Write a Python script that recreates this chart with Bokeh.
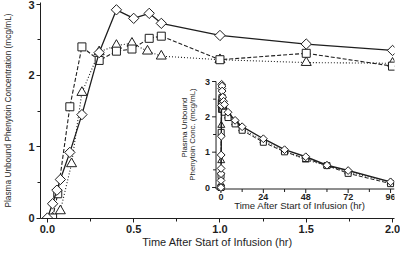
import numpy as np
from bokeh.plotting import figure
from bokeh.models import Range1d, FixedTicker, NumeralTickFormatter, ColumnDataSource
from bokeh.core.properties import value
from bokeh.embed import file_html
from bokeh.resources import INLINE

# ---------------- data (hours, mcg/mL) ----------------
diamond_t = [0, 0.03, 0.055, 0.075, 0.13, 0.2, 0.3, 0.4, 0.5, 0.59, 0.66, 1.0, 1.5, 2.0]
diamond_c = [0, 0.2, 0.39, 0.54, 0.92, 1.45, 2.32, 2.92, 2.8, 2.87, 2.73, 2.56, 2.44, 2.35]

square_t = [0.03, 0.06, 0.13, 0.2, 0.3, 0.4, 0.49, 0.59, 0.66, 1.0, 1.5, 2.0]
square_c = [0, 0.34, 1.56, 2.4, 2.21, 2.34, 2.37, 2.52, 2.55, 2.22, 2.31, 2.13]

triangle_t = [0.03, 0.075, 0.14, 0.2, 0.3, 0.4, 0.49, 0.58, 0.66, 1.0, 1.5, 2.0]
triangle_c = [0, 0.1, 0.76, 1.76, 2.33, 2.42, 2.45, 2.34, 2.27, 2.22, 2.18, 2.17]

# inset: later samples (hr)
late_t = [4, 8, 12, 24, 36, 48, 60, 72, 96]
diamond_late = [2.13, 1.90, 1.72, 1.38, 1.07, 0.87, 0.63, 0.48, 0.16]
square_late = [1.98, 1.80, 1.62, 1.28, 1.01, 0.82, 0.62, 0.40, 0.11]
triangle_late = [2.02, 1.83, 1.66, 1.32, 1.03, 0.78, 0.62, 0.44, 0.15]

# ticks
main_x_ticks = [0, 0.5, 1.0, 1.5, 2.0]
main_x_minor = [0.25, 0.75, 1.25, 1.75]
main_y_ticks = [0, 1, 2, 3]
main_y_minor = [0.5, 1.5, 2.5]
inset_x_ticks = [0, 24, 48, 72, 96]
inset_x_labels = ["0", "24", "48", "72", "96"]
inset_x_minor = [12, 36, 60, 84]
inset_y_ticks = [0, 1, 2, 3]
inset_y_labels = ["0", "1", "2", "3"]
inset_y_minor = [0.5, 1.5, 2.5]

x_title = "Time After Start of Infusion (hr)"
y_title = "Plasma Unbound Phenytoin Concentration (mcg/mL)"
inset_y_title = ["Plasma Unbound", "Phenytoin Conc. (mcg/mL)"]

# ---------------- layout ----------------
FONT = "Liberation Sans"
INK = "#1e1e1e"
W, H = 400, 254
BL, BR, BT, BB = 35, 6, 2, 36

# main mapping (pixels)
X0_PX, X_PPU = 42.0, 175.0
Y0_PX, Y_PPU = 217.5, 71.3
xr = Range1d((BL - X0_PX) / X_PPU, (W - BR - X0_PX) / X_PPU)
yr = Range1d((Y0_PX - (H - BB)) / Y_PPU, (Y0_PX - BT) / Y_PPU)

# inset mapping (pixels)
IX0_PX, IX_PPU = 218.0, (390.0 - 218.0) / 96.0
IY0_PX, IY_PPU = 187.0, (187.0 - 81.0) / 3.0
ixr = Range1d((BL - IX0_PX) / IX_PPU, (W - BR - IX0_PX) / IX_PPU)
iyr = Range1d((IY0_PX - (H - BB)) / IY_PPU, (IY0_PX - BT) / IY_PPU)

def ix(px):
    return (px - IX0_PX) / IX_PPU

def iy(py):
    return (IY0_PX - py) / IY_PPU

p = figure(width=W, height=H, x_range=xr, y_range=yr,
           output_backend="svg", toolbar_location=None,
           min_border_left=BL, min_border_right=BR,
           min_border_top=BT, min_border_bottom=BB)
p.extra_x_ranges = {"ix": ixr}
p.extra_y_ranges = {"iy": iyr}
p.outline_line_color = None
p.grid.visible = False
p.background_fill_color = "white"
p.border_fill_color = "white"

# axes
p.xaxis.ticker = FixedTicker(ticks=main_x_ticks, minor_ticks=main_x_minor)
p.xaxis.formatter = NumeralTickFormatter(format="0.0")
p.yaxis.ticker = FixedTicker(ticks=main_y_ticks, minor_ticks=main_y_minor)
for ax in (p.xaxis[0], p.yaxis[0]):
    ax.axis_line_color = INK
    ax.major_tick_line_color = INK
    ax.minor_tick_line_color = INK
    ax.major_tick_out = 4
    ax.major_tick_in = 0
    ax.minor_tick_out = 3
    ax.minor_tick_in = 0
    ax.major_label_text_font = FONT
    ax.major_label_text_font_size = "11px"
    ax.major_label_text_font_style = "bold"
    ax.major_label_text_color = INK
    ax.major_label_standoff = 2
    ax.axis_label_text_font = FONT
    ax.axis_label_text_font_style = "normal"
    ax.axis_label_text_color = INK
p.xaxis.axis_label = x_title
p.xaxis.axis_label_text_font_size = "11px"
p.xaxis.axis_label_standoff = 0
p.yaxis.axis_label = y_title
p.yaxis.axis_label_text_font_size = "8.3px"
p.yaxis.axis_label_standoff = 12

# ---------------- main series ----------------
def draw_series(t, c, dash, marker, size, angle, lw, xname="default", yname="default"):
    src = ColumnDataSource(dict(t=t, c=c))
    p.line("t", "c", source=src, line_color=INK, line_width=lw, line_dash=dash,
           x_range_name=xname, y_range_name=yname)
    p.scatter("t", "c", source=src, marker=marker, size=size, angle=angle,
              fill_color="white", line_color=INK, line_width=1,
              x_range_name=xname, y_range_name=yname)

draw_series(triangle_t, triangle_c, "1 2", "triangle", 10, 0, 1.1)
draw_series(square_t, square_c, "4 2", "square", 8, 0, 1.1)
draw_series(diamond_t, diamond_c, "solid", "square", 7.3, np.pi / 4, 1.3)

# ---------------- inset ----------------
ax_t = ix(213)       # inset y-axis position (hr)
ax_c = iy(188.5)     # inset x-axis position (mcg/mL)
t_end = ix(394)
tick_dx = 4 / IX_PPU
tick_dy = 4 / IY_PPU
mtick_dy = 3 / IY_PPU
mtick_dx = 3 / IX_PPU

seg = dict(line_color=INK, line_width=1, x_range_name="ix", y_range_name="iy")
# axis lines
p.segment(x0=[ax_t, ax_t], y0=[ax_c, ax_c], x1=[t_end, ax_t], y1=[ax_c, 3.0], **seg)
# x ticks
p.segment(x0=inset_x_ticks, y0=[ax_c] * len(inset_x_ticks),
          x1=inset_x_ticks, y1=[ax_c - tick_dy] * len(inset_x_ticks), **seg)
p.segment(x0=inset_x_minor, y0=[ax_c] * len(inset_x_minor),
          x1=inset_x_minor, y1=[ax_c - mtick_dy] * len(inset_x_minor), **seg)
# y ticks
p.segment(x0=[ax_t] * len(inset_y_ticks), y0=inset_y_ticks,
          x1=[ax_t - tick_dx] * len(inset_y_ticks), y1=inset_y_ticks, **seg)
p.segment(x0=[ax_t] * len(inset_y_minor), y0=inset_y_minor,
          x1=[ax_t - mtick_dx] * len(inset_y_minor), y1=inset_y_minor, **seg)

txt = dict(text_font=value(FONT), text_color=INK, x_range_name="ix", y_range_name="iy")
p.text(x=inset_x_ticks, y=[ax_c] * len(inset_x_ticks), text=inset_x_labels,
       text_align="center", text_baseline="top", y_offset=5,
       text_font_size="9px", text_font_style="bold", **txt)
p.text(x=[ax_t] * len(inset_y_ticks), y=inset_y_ticks, text=inset_y_labels,
       text_align="right", text_baseline="middle", x_offset=-6,
       text_font_size="9px", text_font_style="bold", **txt)
p.text(x=[ix(298)], y=[ax_c], text=[x_title], text_align="center",
       text_baseline="middle", y_offset=16, text_font_size="9.6px", **txt)
p.text(x=[ix(181), ix(189.5)], y=[iy(127), iy(134)], text=inset_y_title,
       angle=np.pi / 2, text_align="center", text_baseline="middle",
       text_font_size="7.8px", **txt)

# inset series: early data + later samples
draw_series(triangle_t + late_t, triangle_c + triangle_late, "1 2", "triangle", 7, 0, 1.0, "ix", "iy")
draw_series(square_t + late_t, square_c + square_late, "4 2", "square", 6, 0, 1.0, "ix", "iy")
draw_series(diamond_t + late_t, diamond_c + diamond_late, "solid", "square", 5.5, np.pi / 4, 1.4, "ix", "iy")

open("out.html", "w").write(file_html(p, INLINE))
